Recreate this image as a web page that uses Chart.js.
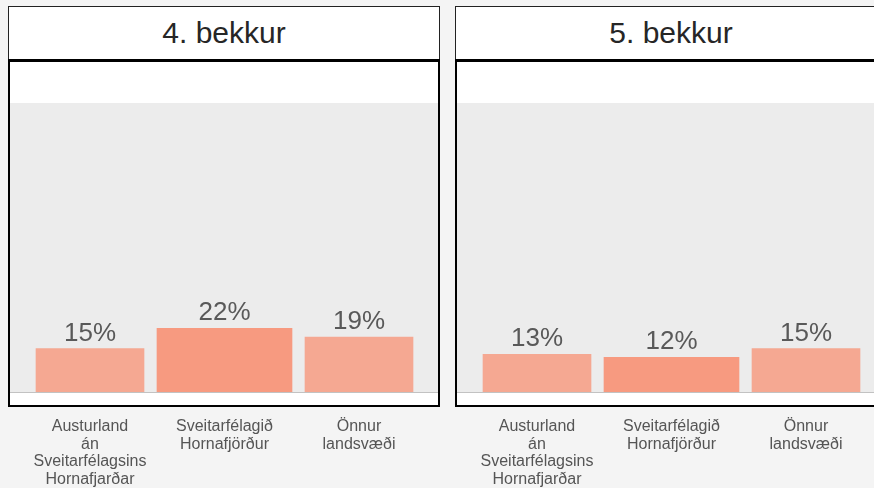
<!DOCTYPE html>
<html>
<head>
<meta charset="utf-8">
<script src="https://cdn.jsdelivr.net/npm/chart.js@4"></script>
<style>
  html, body { margin: 0; padding: 0; }
  body {
    width: 874px; height: 488px; overflow: hidden; position: relative;
    background: #f4f4f4; font-family: "Liberation Sans", Arial, sans-serif;
  }
  .title {
    position: absolute; top: 6px; width: 432px; height: 53px; box-sizing: border-box;
    border: 1px solid #222; border-bottom: none; background: #fff;
    text-align: center; font-size: 30px; line-height: 52px; color: #262626;
  }
  .frame {
    position: absolute; top: 59px; width: 432px; height: 348px; box-sizing: border-box;
    border: 2px solid #000; border-top-width: 3px; background: #fff;
  }
  canvas.plot { position: absolute; top: 62px; }
</style>
</head>
<body>
<script>
// categories (multi-line tick labels)
const categories = [
  ['Austurland', 'án', 'Sveitarfélagsins', 'Hornafjarðar'],
  ['Sveitarfélagið', 'Hornafjörður'],
  ['Önnur', 'landsvæði']
]
const panelTitles = ['4. bekkur', '5. bekkur']
// percentages per panel
const grade4 = [15, 22, 19]
const grade5 = [13, 12, 15]
const yMax = 100

const sideColor = '#f5a892'
const midColor = '#f79a80'

// gray plot background + baseline
const bgPlugin = {
  id: 'bg',
  beforeDraw(chart) {
    const ctx = chart.ctx, a = chart.chartArea
    ctx.save()
    ctx.fillStyle = '#ececec'
    ctx.fillRect(0, a.top, chart.width, a.bottom - a.top)
    ctx.fillStyle = '#c2c2c2'
    ctx.fillRect(0, a.bottom, chart.width, 1)
    ctx.restore()
  }
}

// percent labels above the bars
const valueLabels = {
  id: 'valueLabels',
  afterDatasetsDraw(chart) {
    const ctx = chart.ctx
    ctx.save()
    ctx.font = '26px "Liberation Sans", Arial, sans-serif'
    ctx.fillStyle = '#595959'
    ctx.textAlign = 'center'
    ctx.textBaseline = 'alphabetic'
    chart.data.datasets.forEach((ds, i) => {
      chart.getDatasetMeta(i).data.forEach((bar, j) => {
        const v = ds.data[j]
        if (v == null) return
        ctx.fillText(v + '%', bar.x, bar.y - 8)
      })
    })
    ctx.restore()
  }
}

function makePanel(left, title, values) {
  const t = document.createElement('div')
  t.className = 'title'
  t.style.left = left + 'px'
  t.textContent = title
  document.body.appendChild(t)

  const f = document.createElement('div')
  f.className = 'frame'
  f.style.left = left + 'px'
  document.body.appendChild(f)

  const c = document.createElement('canvas')
  c.className = 'plot'
  c.style.left = (left + 2) + 'px'
  c.width = 428
  c.height = 426
  document.body.appendChild(c)

  // middle bar is wider and a little darker, so it gets its own dataset
  const side = values.map((v, i) => i === 1 ? null : v)
  const mid = values.map((v, i) => i === 1 ? v : null)

  new Chart(c, {
    type: 'bar',
    data: {
      labels: categories,
      datasets: [
        { data: side, backgroundColor: sideColor, barThickness: 108, grouped: false },
        { data: mid, backgroundColor: midColor, barThickness: 135, grouped: false }
      ]
    },
    options: {
      responsive: false,
      animation: false,
      layout: { padding: { top: 41, left: 12.75, right: 11.75, bottom: 0 } },
      plugins: { legend: { display: false }, tooltip: { enabled: false } },
      scales: {
        y: { display: false, min: 0, max: yMax },
        x: {
          grid: { display: false, drawTicks: false },
          border: { display: false },
          ticks: {
            color: '#555',
            padding: 26,
            maxRotation: 0,
            autoSkip: false,
            font: { family: '"Liberation Sans", Arial, sans-serif', size: 16, lineHeight: 1.1 }
          },
          afterFit(scale) {
            scale.height = 96
            // keep label widths from squeezing the plot area
            scale.paddingLeft = 0
            scale.paddingRight = 0
          }
        }
      }
    },
    plugins: [bgPlugin, valueLabels]
  })
}

makePanel(8, panelTitles[0], grade4)
makePanel(455, panelTitles[1], grade5)
</script>
</body>
</html>
